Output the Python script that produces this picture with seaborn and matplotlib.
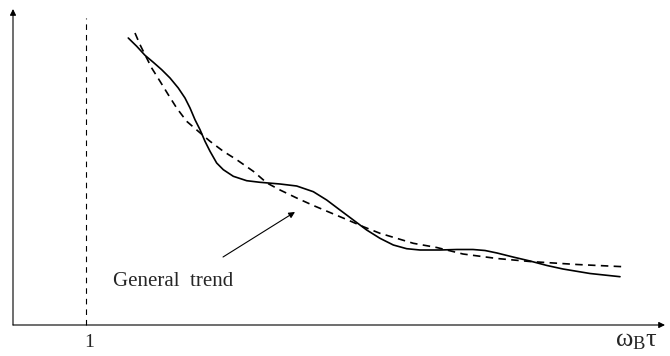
import numpy as np
import pandas as pd
import matplotlib
matplotlib.use("Agg")
import matplotlib.pyplot as plt
import seaborn as sns

# values (x in units of omega_B*tau, y arbitrary)
x_solid = [1.579, 1.695, 1.808, 1.922, 2.037, 2.151, 2.264, 2.356, 2.425, 2.493,
           2.562, 2.630, 2.699, 2.790, 2.881, 3.018, 3.201, 3.384, 3.658, 3.886,
           4.114, 4.297, 4.479, 4.662, 4.845, 5.027, 5.210, 5.393, 5.575, 5.849,
           6.082, 6.301, 6.466, 6.630, 6.849, 7.082, 7.315, 7.534, 7.904, 8.315]
y_solid = [2.870, 2.787, 2.697, 2.627, 2.553, 2.470, 2.370, 2.270, 2.170, 2.053,
           1.953, 1.837, 1.737, 1.620, 1.553, 1.487, 1.443, 1.427, 1.410, 1.390,
           1.333, 1.250, 1.150, 1.050, 0.950, 0.867, 0.800, 0.763, 0.750, 0.750,
           0.755, 0.755, 0.745, 0.720, 0.680, 0.640, 0.595, 0.560, 0.515, 0.483]

x_trend = [1.671, 1.740, 1.808, 1.900, 2.014, 2.127, 2.242, 2.379, 2.538, 2.699,
           2.881, 3.064, 3.292, 3.479, 3.658, 3.886, 4.114, 4.342, 4.571, 4.799,
           5.027, 5.256, 5.484, 5.804, 6.164, 6.630, 7.082, 7.726, 8.356]
y_trend = [2.920, 2.803, 2.703, 2.570, 2.437, 2.303, 2.170, 2.037, 1.937, 1.837,
           1.737, 1.653, 1.537, 1.420, 1.350, 1.270, 1.195, 1.125, 1.055, 0.983,
           0.917, 0.867, 0.817, 0.775, 0.710, 0.665, 0.635, 0.605, 0.583]

x_mark = 1.0
tick_label = "1"
x_label = r"$\mathregular{\omega_B\tau}$"
trend_label = "General  trend"

df_solid = pd.DataFrame({"x": x_solid, "y": y_solid})
df_trend = pd.DataFrame({"x": x_trend, "y": y_trend})

sns.set_style("white")
plt.rcParams["font.family"] = ["Liberation Serif", "DejaVu Serif"]
plt.rcParams["mathtext.fontset"] = "custom"
plt.rcParams["mathtext.rm"] = "Liberation Serif"

fig = plt.figure(figsize=(6.7, 3.56), dpi=100)
ax = fig.add_axes([0, 0, 1, 1])
ax.set_xlim(-13 / 73, 657 / 73)
ax.set_ylim(-0.31, 3.25)
ax.axis("off")

sns.lineplot(data=df_solid, x="x", y="y", color="black", lw=1.2, ax=ax,
             estimator=None, sort=False, solid_joinstyle="round",
             solid_capstyle="round")
sns.lineplot(data=df_trend, x="x", y="y", color="black", lw=1.2, ax=ax,
             estimator=None, sort=False, linestyle=(0, (4.5, 3.2)),
             dash_joinstyle="round")

# axes with arrow heads
arrow = dict(arrowstyle="-|>", lw=0.8, color="black", mutation_scale=9,
             shrinkA=0, shrinkB=0)
ax.annotate("", xy=(652 / 73, 0), xytext=(0, 0), arrowprops=arrow)
ax.annotate("", xy=(0, 3.16), xytext=(0, 0), arrowprops=arrow)

# dashed line at omega_B tau = 1
ax.plot([x_mark, x_mark], [0, 3.07], color="black", lw=0.8,
        linestyle=(0, (5, 4.5)))
ax.text(x_mark + 0.04, -0.09, tick_label, ha="center", va="top", fontsize=14)
ax.text(8.54, -0.05, x_label, ha="center", va="top", fontsize=19)

# annotation for the trend line
ax.annotate("", xy=(3.863, 1.13), xytext=(2.877, 0.68), arrowprops=arrow)
ax.text(1.37, 0.44, trend_label, ha="left", va="center", fontsize=15)

fig.savefig("out.png", dpi=100)
